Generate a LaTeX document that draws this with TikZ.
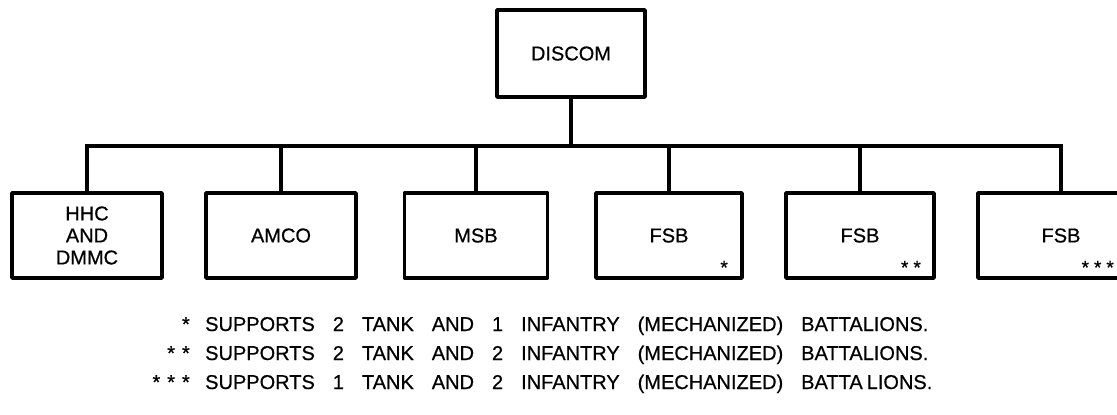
\documentclass[tikz,border=0pt]{standalone}
\usepackage{fontspec}
\setmainfont{Liberation Sans}[FakeBold=0.6]
\begin{document}
\begin{tikzpicture}[x=1pt,y=-1pt,
  unit/.style={draw, line width=3.6pt, inner sep=0pt, minimum height=85pt,
    font=\fontsize{20}{22}\selectfont, align=center, line join=round},
  link/.style={line width=3.2pt},
  boxmark/.style={inner sep=0pt, font=\fontsize{19}{19}\selectfont, anchor=base east},
  notetext/.style={inner sep=0pt, anchor=base west, font=\fontsize{20}{20}\selectfont},
  notemark/.style={inner sep=0pt, anchor=base east, font=\fontsize{20}{20}\selectfont}]
\useasboundingbox (0,0) rectangle (1117,415);
\clip (0,0) rectangle (1117,415);
% top
\node[unit, minimum width=148pt, minimum height=87pt] (discom) at (571,53.5) {DISCOM};
% children
\node[unit, minimum width=150pt] (hhc)  at (87,235.5)  {HHC\\AND\\DMMC};
\node[unit, minimum width=150pt] (amco) at (281,235.5) {AMCO};
\node[unit, minimum width=143pt] (msb)  at (476,235.5) {MSB};
\node[unit, minimum width=146pt] (fsba) at (669,235.5) {FSB};
\node[unit, minimum width=148pt] (fsbb) at (860,235.5) {FSB};
\node[unit, minimum width=166pt] (fsbc) at (1061,235.5) {FSB};
\coordinate (bus) at (571,146);
% connectors
\draw[link] (discom.south) -- (discom.south |- bus);
\draw[link, line join=miter] (hhc.north) |- (bus) -| (fsbc.north);
\foreach \n in {amco,msb,fsba,fsbb} \draw[link] (\n.north) -- (\n.north |- bus);
% marks in boxes
\node[boxmark] (ma) at (728,274) {*};
\node[boxmark] (mb) at (921,274) {*\hspace{5pt}*};
\node[boxmark] (mc) at (1114,274) {*\hspace{5pt}*\hspace{5pt}*};
% notes
\node[notemark] (s1) at (190,331) {*};
\node[notemark] (s2) at (190,360) {*\hspace{7pt}*};
\node[notemark] (s3) at (190,389) {*\hspace{7pt}*\hspace{7pt}*};
\node[notetext] (n1) at (205,331) {\spaceskip=0.9em\relax SUPPORTS 2 TANK AND 1 INFANTRY (MECHANIZED) BATTALIONS.};
\node[notetext] (n2) at (205,360) {\spaceskip=0.9em\relax SUPPORTS 2 TANK AND 2 INFANTRY (MECHANIZED) BATTALIONS.};
\node[notetext] (n3) at (205,389) {\spaceskip=0.9em\relax SUPPORTS 1 TANK AND 2 INFANTRY (MECHANIZED) BATTA\hspace{4pt}LIONS.};
\end{tikzpicture}
\end{document}
